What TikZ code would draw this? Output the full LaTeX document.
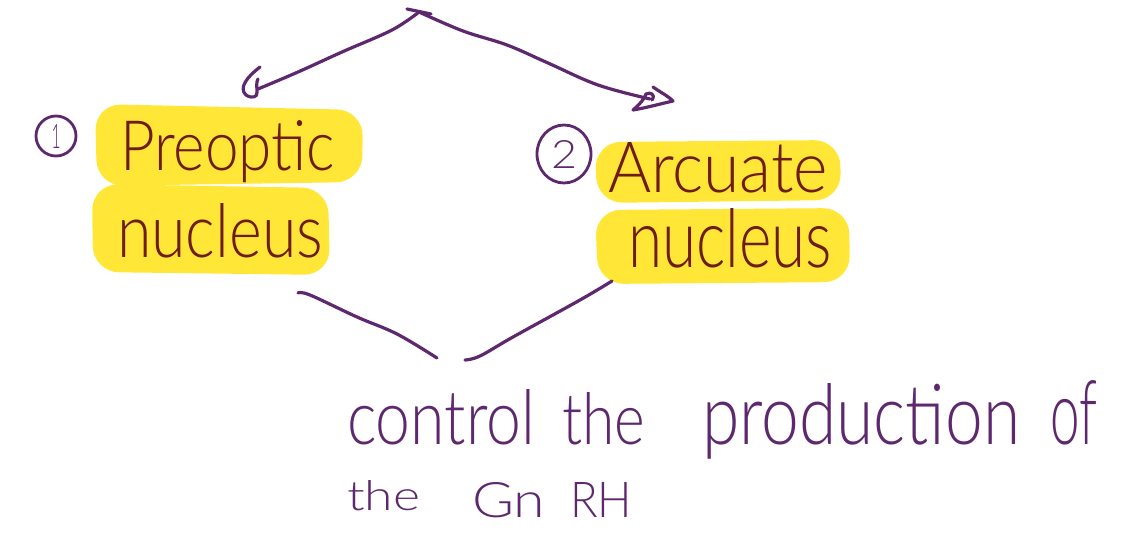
\documentclass[tikz,border=0pt]{standalone}
\usepackage{fontspec}
\usepackage{graphicx}
\usetikzlibrary{shapes.geometric}
\setmainfont{Lato Light}
\definecolor{ink}{RGB}{94,40,110}
\definecolor{maroon}{RGB}{110,28,22}
\definecolor{hl}{RGB}{255,230,55}
\tikzset{
 pen/.style={draw=ink, line width=3.2pt, line cap=round, line join=round},
 hlbox/.style={fill=hl, rounded corners=26pt},
 word/.style={anchor=base west, inner sep=0pt, outer sep=0pt},
}
\newcommand{\fitw}[3]{\resizebox{#1pt}{#2pt}{#3}}
\begin{document}
\begin{tikzpicture}[x=1pt,y=-1pt]
\useasboundingbox (0,0) rectangle (1132,535);
% highlights
\fill[hlbox] (95,104) -- (363,110) -- (362,182) -- (97,186) -- cycle;
\fill[hlbox] (92,184) -- (328,188) -- (330,275) -- (93,272) -- cycle;
\fill[hlbox] (595,142) -- (840,140) -- (841,200) -- (597,203) -- cycle;
\fill[hlbox] (595,210) -- (849,208) -- (850,282) -- (598,284) -- cycle;
% circled numbers
\node[draw=ink, line width=2.8pt, circle, minimum size=40pt, inner sep=0pt, text=ink] (c1) at (56,136) {\fitw{9}{24}{1}};
\node[draw=ink, line width=2.8pt, ellipse, minimum width=54pt, minimum height=58pt, inner sep=0pt, text=ink] (c2) at (564,154) {\fitw{26}{28}{2}};
% highlighted words
\node[word, text=maroon] (pre) at (120,170) {\fitw{215}{50}{Preoptic}};
\node[word, text=maroon] (nuc1) at (117,257) {\fitw{206}{54}{nucleus}};
\node[word, text=maroon] (arc) at (608,192) {\fitw{220}{50}{Arcuate}};
\node[word, text=maroon] (nuc2) at (628,267) {\fitw{204}{59}{nucleus}};
% bottom text
\node[word, text=ink] (w1) at (347,444) {\fitw{188}{55}{control}};
\node[word, text=ink] (w2) at (562,444) {\fitw{83}{52}{the}};
\node[word, text=ink] (w3) at (702,444) {\fitw{318}{61}{production}};
\node[word, text=ink] (w4) at (1050,444) {\fitw{47}{64}{of}};
\node[word, text=ink] (w5) at (347,510) {\fitw{73}{30}{the}};
\node[word, text=ink] (w6) at (472,517) {\fitw{73}{35}{Gn}};
\node[word, text=ink] (w7) at (570,517) {\fitw{62}{35}{RH}};
% top arrows
\coordinate (apex) at (419,12);
\coordinate (lt) at (258,89);
\coordinate (rt) at (650,99);
\draw[pen] (407,9) -- (431,14);
\draw[pen] plot[smooth, tension=0.6] coordinates {(apex) (392,30) (342,52) (298,72) (lt)};
\draw[pen] plot[smooth, tension=0.6] coordinates {(apex) (463,31) (507,45) (548,63) (598,85) (rt)};
\draw[pen] (260,67) .. controls (248,76) and (238,88) .. (246,95) .. controls (252,99) and (258,97) .. (257,92) .. controls (257,87) and (256,82) .. (258,79);
\draw[pen] (653,87) .. controls (660,92) and (668,96) .. (673,101) .. controls (660,104) and (645,108) .. (633,110) .. controls (640,104) and (645,98) .. (646,94) .. controls (650,92) and (656,94) .. (652,100);
% bottom connectors
\coordinate (bl1) at (298,293);
\coordinate (bl2) at (437,358);
\coordinate (br1) at (612,281);
\coordinate (br2) at (465,360);
\draw[pen] plot[smooth, tension=0.6] coordinates {(bl1) (310,295) (357,317) (397,334) (bl2)};
\draw[pen] plot[smooth, tension=0.6] coordinates {(br1) (580,300) (513,337) (480,356) (br2)};
\end{tikzpicture}
\end{document}
